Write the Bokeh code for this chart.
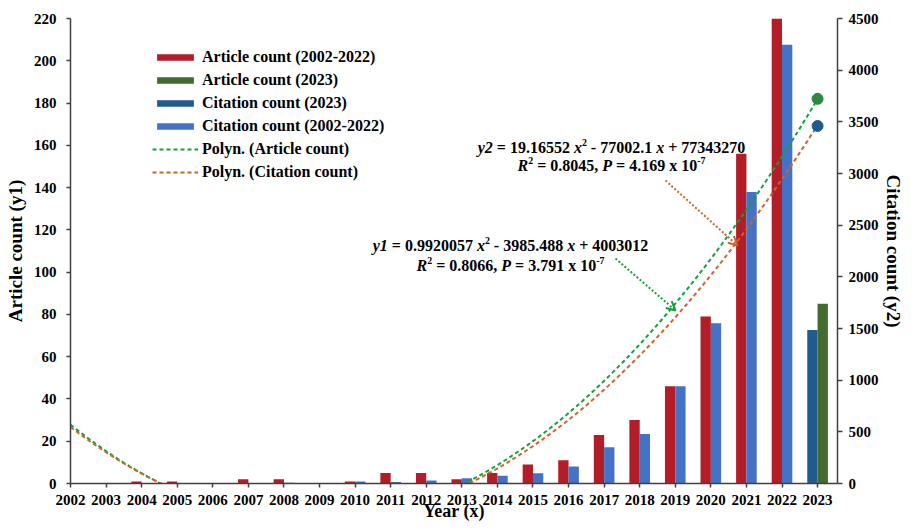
import numpy as np
from bokeh.plotting import figure
from bokeh.models import (Range1d, LinearAxis, FixedTicker, Label, Arrow, OpenHead,
                          Legend, LegendItem)
from bokeh.embed import file_html
from bokeh.resources import INLINE

# ---------------- data ----------------
years = list(range(2002, 2023))
article_counts = [0, 0, 1, 1, 0, 2, 2, 0, 1, 5, 5, 2, 5, 9, 11, 23, 30, 46, 79, 156, 220]
citation_counts = [0, 0, 0, 0, 0, 0, 8, 6, 19, 15, 29, 50, 75, 100, 165, 350, 480, 940, 1550, 2820, 4245]
year_2023 = [2023]
article_2023 = [85]
citation_2023 = [1485]
trend_article_2023 = [182]
trend_citation_2023 = [3460]
poly_article = [0.9920057, -3985.488, 4003012]
poly_citation = [19.16552, -77002.1, 77343270]
left_ticks = list(range(0, 221, 20))
right_ticks = list(range(0, 4501, 500))
year_ticks = list(range(2002, 2024))

RED = "#B21D27"
LBLUE = "#4472C4"
DBLUE = "#1F5B8E"
DGREEN = "#436B2F"
TGREEN = "#14A03C"
TORANGE = "#D0632B"
CGREEN = "#2A8A3E"
AXC = "#404040"
FONT = "Liberation Serif"

BW = 0.29

p = figure(width=906, height=524, output_backend="svg", toolbar_location=None,
           x_range=Range1d(2002, 2023.56), y_range=Range1d(0, 220),
           min_border_left=70, min_border_right=64, min_border_top=18, min_border_bottom=41)
p.extra_y_ranges = {"y2": Range1d(0, 4500)}
p.outline_line_color = None
p.xgrid.visible = False
p.ygrid.visible = False

yrs = np.array(years, dtype=float)
r_red = p.vbar(x=yrs - BW / 2, top=article_counts, width=BW, bottom=0, fill_color=RED, line_color=None)
r_lblue = p.vbar(x=yrs + BW / 2, top=citation_counts, width=BW, bottom=0, fill_color=LBLUE,
                 line_color=None, y_range_name="y2")
y23 = np.array(year_2023, dtype=float)
r_dblue = p.vbar(x=y23 - BW / 2, top=citation_2023, width=BW, bottom=0, fill_color=DBLUE,
                 line_color=None, y_range_name="y2")
r_green = p.vbar(x=y23 + BW / 2, top=article_2023, width=BW, bottom=0, fill_color=DGREEN, line_color=None)

xs = np.linspace(2002, 2023, 500)
r_ta = p.line(xs, np.polyval(poly_article, xs), line_color=TGREEN, line_width=2, line_dash="4 3")
r_tc = p.line(xs, np.polyval(poly_citation, xs), line_color=TORANGE, line_width=2, line_dash="4 3",
              y_range_name="y2")
p.scatter(year_2023, trend_article_2023, size=11, fill_color=CGREEN, line_color=CGREEN)
p.scatter(year_2023, trend_citation_2023, size=11, fill_color=DBLUE, line_color=DBLUE, y_range_name="y2")

# ---------------- axes ----------------
def style_axis(ax, tick_out, standoff):
    ax.axis_line_color = AXC
    ax.axis_line_width = 1.5
    ax.major_tick_line_color = AXC
    ax.major_tick_line_width = 1.5
    ax.major_tick_out = tick_out
    ax.major_tick_in = 0
    ax.minor_tick_line_color = None
    ax.major_label_text_font = FONT
    ax.major_label_text_font_style = "bold"
    ax.major_label_text_font_size = "15px"
    ax.major_label_text_color = "black"
    ax.major_label_standoff = standoff
    ax.axis_label_text_font = FONT
    ax.axis_label_text_font_style = "bold"
    ax.axis_label_text_font_size = "19px"
    ax.axis_label_text_color = "black"

p.xaxis.ticker = FixedTicker(ticks=year_ticks)
style_axis(p.xaxis[0], 4, 7)
p.xaxis.axis_label = "Year (x)"
p.xaxis.axis_label_text_font_size = "18px"
p.xaxis.axis_label_standoff = -7
p.yaxis.ticker = FixedTicker(ticks=left_ticks)
style_axis(p.yaxis[0], 4, 10)
p.yaxis.axis_label = "Article count (y1)"
p.yaxis.axis_label_standoff = 5
ax2 = LinearAxis(y_range_name="y2", ticker=FixedTicker(ticks=right_ticks))
style_axis(ax2, 5, 6)
ax2.axis_label = "Citation count (y2)"
ax2.axis_label_standoff = 1
p.add_layout(ax2, "right")

# ---------------- legend ----------------
legend = Legend(items=[
    LegendItem(label="Article count (2002-2022)", renderers=[r_red]),
    LegendItem(label="Article count (2023)", renderers=[r_green]),
    LegendItem(label="Citation count (2023)", renderers=[r_dblue]),
    LegendItem(label="Citation count (2002-2022)", renderers=[r_lblue]),
    LegendItem(label="Polyn. (Article count)", renderers=[r_ta]),
    LegendItem(label="Polyn. (Citation count)", renderers=[r_tc]),
], location=(82, 302))
legend.border_line_color = None
legend.background_fill_alpha = 0
legend.padding = 0
legend.margin = 0
legend.spacing = 4
legend.label_height = 19
legend.glyph_height = 8
legend.glyph_width = 46
legend.label_standoff = 4
legend.label_text_font = FONT
legend.label_text_font_style = "bold"
legend.label_text_font_size = "16px"
legend.label_text_color = "black"
p.add_layout(legend)

# ---------------- rich text helpers ----------------
BOLD_W = {" ": 250, ".": 250, ",": 250, "=": 570, "-": 333, "+": 570, "x": 500, "(": 333, ")": 333,
          "Y": 722, "e": 444, "a": 500, "r": 444, "R": 722, "P": 611, "y": 500}
BI_W = {"y": 444, "x": 500, "R": 667, "P": 611}


def text_w(t, italic, size):
    table = BI_W if italic else BOLD_W
    return sum(table.get(ch, 500) for ch in t) / 1000.0 * size


def rich_line(segments, cx, cy, size):
    info = []
    for t, k in segments:
        sz = size * 0.62 if k == "sup" else size
        info.append((t, k, sz, text_w(t, k == "bi", sz)))
    total = sum(i[3] for i in info)
    x = cx - total / 2.0
    for t, k, sz, w in info:
        lead = len(t) - len(t.lstrip(" "))
        st = t.strip(" ")
        if st:
            p.add_layout(Label(x=x + lead * 0.25 * sz, y=cy + (size * 0.32 if k == "sup" else 0),
                               x_units="screen", y_units="screen", text=st, text_font=FONT,
                               text_font_style="bold italic" if k == "bi" else "bold",
                               text_font_size=f"{sz:.1f}px", text_align="left",
                               text_baseline="middle", text_color="black"))
        x += w


rich_line([("y2", "bi"), (" = 19.16552 ", "b"), ("x", "bi"), ("2", "sup"), (" - 77002.1 ", "b"),
           ("x", "bi"), (" + 77343270", "b")], 541, 336, 16)
rich_line([("R", "bi"), ("2", "sup"), (" = 0.8045, ", "b"), ("P", "bi"), (" = 4.169 x 10", "b"),
           ("-7", "sup")], 541, 318, 16)
rich_line([("y1", "bi"), (" = 0.9920057 ", "b"), ("x", "bi"), ("2", "sup"), (" - 3985.488 ", "b"),
           ("x", "bi"), (" + 4003012", "b")], 440, 238, 16)
rich_line([("R", "bi"), ("2", "sup"), (" = 0.8066, ", "b"), ("P", "bi"), (" = 3.791 x 10", "b"),
           ("-7", "sup")], 440, 218, 16)

# arrows
p.add_layout(Arrow(x_start=595, y_start=303, x_end=667, y_end=238, start_units="screen",
                   end_units="screen", line_color=TORANGE, line_width=2, line_dash="2 2",
                   end=OpenHead(size=9, line_color=TORANGE, line_width=2)))
p.add_layout(Arrow(x_start=545, y_start=225, x_end=605, y_end=173, start_units="screen",
                   end_units="screen", line_color=TGREEN, line_width=2, line_dash="2 2",
                   end=OpenHead(size=9, line_color=TGREEN, line_width=2)))

open("out.html", "w").write(file_html(p, INLINE))
